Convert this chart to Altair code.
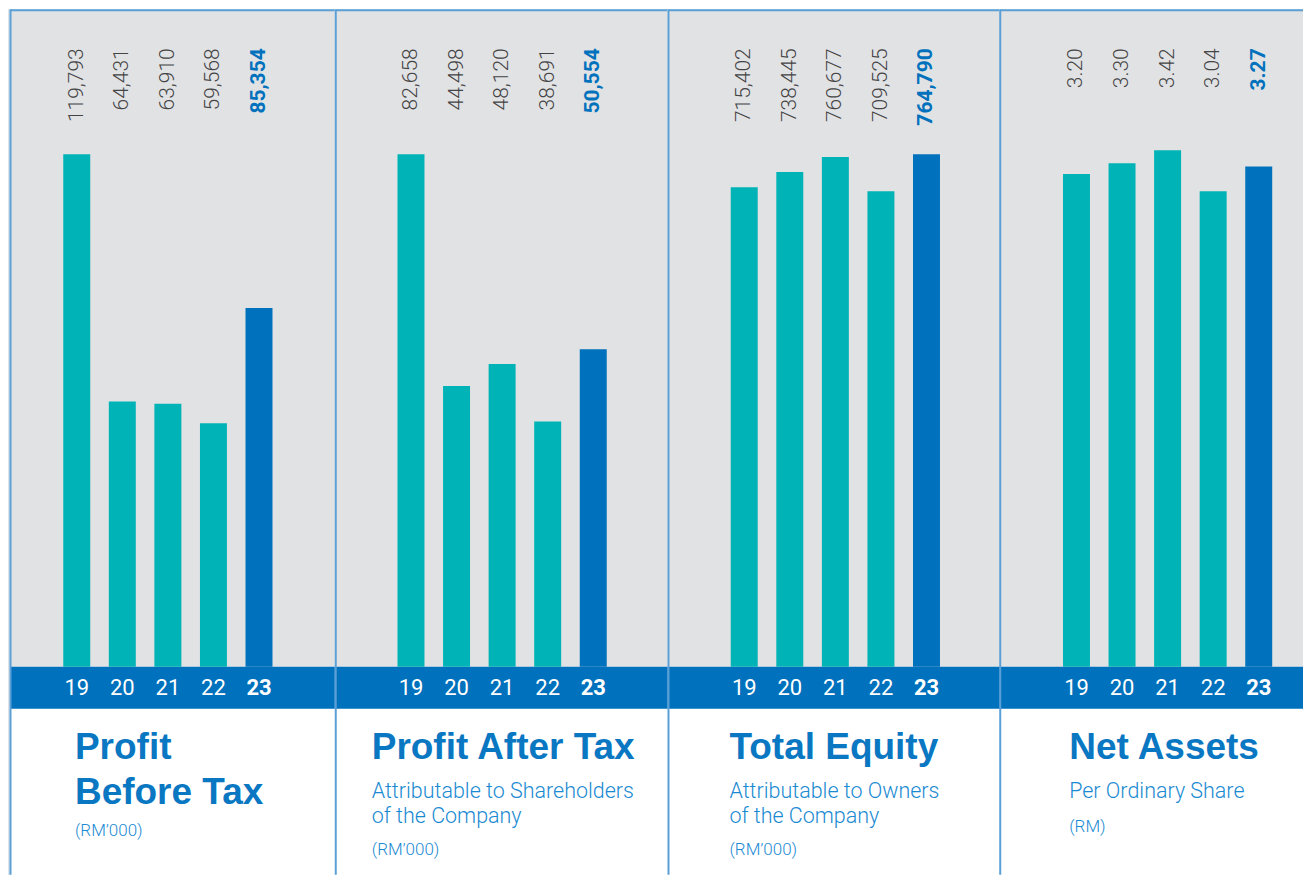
import altair as alt
import pandas as pd

# ---------------- data ----------------
YEARS = ["19", "20", "21", "22", "23"]
LATEST = "23"
PBT = [119793, 64431, 63910, 59568, 85354]
PAT = [82658, 44498, 48120, 38691, 50554]
EQUITY = [715402, 738445, 760677, 709525, 764790]
NAPS = [3.20, 3.30, 3.42, 3.04, 3.27]
SERIES = [PBT, PAT, EQUITY, NAPS]
FORMATS = [",.0f", ",.0f", ",.0f", ".2f"]

TITLES = [["Profit", "Before Tax"], ["Profit After Tax"], ["Total Equity"], ["Net Assets"]]
SUBTITLES = [[], ["Attributable to Shareholders", "of the Company"],
             ["Attributable to Owners", "of the Company"], ["Per Ordinary Share"]]
UNITS = ["(RM\u2019000)", "(RM\u2019000)", "(RM\u2019000)", "(RM)"]

# ---------------- style / layout ----------------
GREY = "#e1e2e4"
STRIP = "#dce4ea"
TEAL = "#00b3b6"
BLUE = "#0071bc"
TITLE_BLUE = "#0a77c2"
SUB_BLUE = "#1a8ad2"
LABEL = "#444444"
BORDER = "#5a9fd6"

H = 866
BASE_Y = 658
BAND_BOTTOM = 700
WIDTHS = [327, 333, 332, 304]
X_RANGES = [[46, 274], [53.5, 281.5], [54, 282], [54.5, 282.5]]
Y_TOPS = [145, 145, 145, 141]
DOMAIN_MIN = [5000, -1700, 0, -1.36]
BORDER_X = [2.5, 1, 1, 1]
TEXT_X = [67, 37, 62, 70]
TITLE_Y, TITLE_LH = 750, 45
SUB_Y, SUB_LH = 789, 25
UNIT_Y = [827, 846, 846, 823]
PAD_IN = 0.408


def panel(i):
    W = WIDTHS[i]
    df = pd.DataFrame({"year": YEARS, "value": SERIES[i]})
    deco = alt.Chart(alt.Data(values=[{"k": 0}]))
    x = alt.X("year:N", axis=None,
              scale=alt.Scale(range=X_RANGES[i], paddingInner=PAD_IN, paddingOuter=PAD_IN / 2))
    y = alt.Y("value:Q", axis=None,
              scale=alt.Scale(domain=[DOMAIN_MIN[i], max(SERIES[i])], zero=False, nice=False,
                              range=[BASE_Y, Y_TOPS[i]]))
    layers = []
    x0 = 0
    if i == 0:
        layers.append(deco.mark_rect(color=STRIP).encode(
            x=alt.value(0), x2=alt.value(2.5), y=alt.value(0), y2=alt.value(H)))
        x0 = 2.5
    layers.append(deco.mark_rect(color=GREY).encode(
        x=alt.value(x0), x2=alt.value(W), y=alt.value(0), y2=alt.value(BASE_Y)))
    layers.append(deco.mark_rect(color=BLUE).encode(
        x=alt.value(x0), x2=alt.value(W), y=alt.value(BASE_Y), y2=alt.value(BAND_BOTTOM)))
    layers.append(alt.Chart(df).mark_bar().encode(
        x=x, y=y, y2=alt.datum(DOMAIN_MIN[i]),
        color=alt.when(alt.datum.year == LATEST).then(alt.value(BLUE)).otherwise(alt.value(TEAL))))
    # value labels
    layers.append(alt.Chart(df).transform_filter(alt.datum.year != LATEST).mark_text(
        angle=270, align="right", baseline="middle", font="Roboto", fontWeight=300,
        fontSize=21, color=LABEL).encode(
        x=x, y=alt.value(39), text=alt.Text("value:Q", format=FORMATS[i])))
    layers.append(alt.Chart(df).transform_filter(alt.datum.year == LATEST).mark_text(
        angle=270, align="right", baseline="middle", font="Roboto", fontWeight="bold",
        fontSize=21, color=BLUE).encode(
        x=x, y=alt.value(39), text=alt.Text("value:Q", format=FORMATS[i])))
    # year labels
    layers.append(alt.Chart(df).transform_filter(alt.datum.year != LATEST).mark_text(
        baseline="middle", font="Roboto", fontWeight=400, fontSize=22, color="white").encode(
        x=x, y=alt.value(679), text="year:N"))
    layers.append(alt.Chart(df).transform_filter(alt.datum.year == LATEST).mark_text(
        baseline="middle", font="Roboto", fontWeight="bold", fontSize=22, color="white").encode(
        x=x, y=alt.value(679), text="year:N"))
    # borders
    layers.append(deco.mark_rule(color=BORDER, strokeWidth=2).encode(
        x=alt.value(BORDER_X[i]), y=alt.value(0), y2=alt.value(H)))
    layers.append(deco.mark_rule(color=BORDER, strokeWidth=2).encode(
        x=alt.value(BORDER_X[i]), x2=alt.value(W), y=alt.value(1)))
    # titles
    for j, line in enumerate(TITLES[i]):
        layers.append(deco.mark_text(
            align="left", baseline="alphabetic", font="Liberation Sans", fontWeight="bold",
            fontSize=37, color=TITLE_BLUE).encode(
            x=alt.value(TEXT_X[i]), y=alt.value(TITLE_Y + j * TITLE_LH), text=alt.value(line)))
    for j, line in enumerate(SUBTITLES[i]):
        layers.append(deco.mark_text(
            align="left", baseline="alphabetic", font="Roboto", fontWeight=300,
            fontSize=21.5, color=SUB_BLUE).encode(
            x=alt.value(TEXT_X[i]), y=alt.value(SUB_Y + j * SUB_LH), text=alt.value(line)))
    layers.append(deco.mark_text(
        align="left", baseline="alphabetic", font="Roboto", fontWeight=300,
        fontSize=17, color=SUB_BLUE).encode(
        x=alt.value(TEXT_X[i]), y=alt.value(UNIT_Y[i]), text=alt.value(UNITS[i])))
    return alt.layer(*layers).properties(width=W, height=H)


chart = alt.hconcat(*[panel(i) for i in range(4)], spacing=0, bounds="flush").properties(
    padding=0, background="white"
).configure_view(stroke=None)

chart.save("out.html", embed_options={"renderer": "svg", "actions": False})
